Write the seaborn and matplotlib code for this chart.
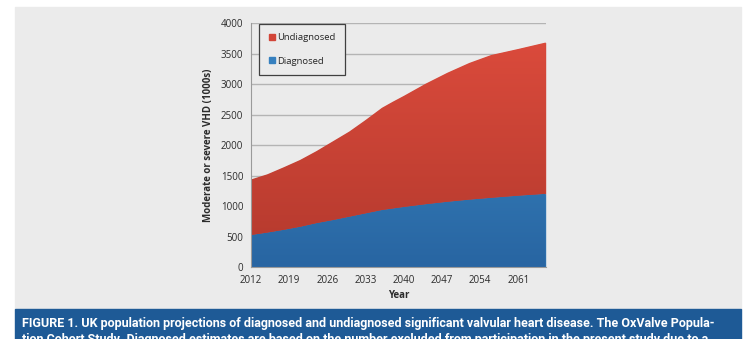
import numpy as np
import pandas as pd
import matplotlib
matplotlib.use('Agg')
import matplotlib.pyplot as plt
from matplotlib.colors import LinearSegmentedColormap
from matplotlib.lines import Line2D
from matplotlib.patches import Rectangle
import seaborn as sns

# values (thousands)
years = [2012, 2015, 2018, 2021, 2024, 2027, 2030, 2033, 2036, 2038, 2040, 2044, 2048, 2052, 2056, 2061, 2066]
diagnosed = [530, 570, 615, 665, 725, 775, 830, 885, 940, 965, 990, 1035, 1075, 1110, 1140, 1175, 1205]
undiagnosed = [910, 955, 1025, 1095, 1180, 1290, 1395, 1530, 1675, 1750, 1820, 1975, 2115, 2240, 2340, 2405, 2480]
tick_years = [2012, 2019, 2026, 2033, 2040, 2047, 2054, 2061]
y_ticks = [0, 500, 1000, 1500, 2000, 2500, 3000, 3500, 4000]

caption_1 = ("FIGURE 1. UK population projections of diagnosed and undiagnosed significant "
             "valvular heart disease. The OxValve Popula-")
caption_2 = ("tion Cohort Study. Diagnosed estimates are based on the number excluded from "
             "participation in the present study due to a")

sns.set_style('white')
plt.rcParams['font.family'] = ['Open Sans', 'DejaVu Sans']

df = pd.DataFrame({'Year': years, 'Diagnosed': diagnosed, 'Undiagnosed': undiagnosed})

W, H = 743, 339
fig = plt.figure(figsize=(W / 100, H / 100), dpi=100, facecolor='white')

# grey panel and blue caption banner (behind the axes)
fig.patches.append(Rectangle((15 / W, 30 / H), 726 / W, 302 / H, transform=fig.transFigure,
                             color='#ebebeb', zorder=-10))
fig.patches.append(Rectangle((15 / W, 0), 726 / W, 30 / H, transform=fig.transFigure,
                             color='#1e5a96', zorder=-10))

ax = fig.add_axes([251 / W, 71.7 / H, 294.7 / W, 244 / H])
ax.set_facecolor('none')

red = '#d24538'
blue = '#3680bf'
polys = ax.stackplot(df['Year'], df['Diagnosed'], df['Undiagnosed'], colors=[blue, red], lw=0, zorder=2)

# vertical gradients like the Excel fill
cmaps = [LinearSegmentedColormap.from_list('b', ['#2865a2', '#3e8fc9']),
         LinearSegmentedColormap.from_list('r', ['#b3392d', '#de4c3d'])]
grad = np.linspace(0, 1, 256).reshape(-1, 1)
for poly, cm in zip(polys, cmaps):
    im = ax.imshow(grad, extent=[years[0], years[-1], 0, 4000], origin='lower',
                   aspect='auto', cmap=cm, zorder=3)
    im.set_clip_path(poly.get_paths()[0], ax.transData)

ax.set_xlim(years[0], years[-1])
ax.set_ylim(0, 4000)
ax.set_xticks(tick_years)
ax.set_yticks(y_ticks)
ax.yaxis.grid(True, color='#b4b4b4', lw=1)
ax.set_axisbelow(True)
for s in ['top', 'right']:
    ax.spines[s].set_visible(False)
for s in ['left', 'bottom']:
    ax.spines[s].set_color('#9a9a9a')
    ax.spines[s].set_linewidth(0.8)
    ax.spines[s].set_zorder(4)
ax.tick_params(axis='both', length=3.5, width=0.8, color='#9a9a9a', labelsize=7,
               labelcolor='#2b2b2b', pad=2)

ax.set_xlabel('Year', fontsize=7, fontweight='bold', color='#2b2b2b', labelpad=3)
ax.set_ylabel('Moderate or severe VHD (1000s)', fontsize=7, fontweight='bold',
              color='#2b2b2b', labelpad=5)

handles = [Line2D([], [], marker='s', ls='', color=red, markersize=4, label='Undiagnosed'),
           Line2D([], [], marker='s', ls='', color=blue, markersize=4, label='Diagnosed')]
leg = ax.legend(handles=handles, loc='upper left', bbox_to_anchor=(0.028, 0.997),
                fontsize=6.8, frameon=True, fancybox=False, framealpha=1,
                facecolor='#ebebeb', edgecolor='#404040', labelspacing=1.5,
                handlelength=0.6, handletextpad=0.3, borderpad=1.0, borderaxespad=0)
leg.get_frame().set_linewidth(0.9)
leg.set_zorder(5)

# caption in the banner, fitted to the banner width
cap_kw = dict(color='white', fontweight='bold', family=['Roboto', 'DejaVu Sans'], va='center')
t1 = fig.text(22 / W, 1 - 323 / H, caption_1, fontsize=9, **cap_kw)
fig.canvas.draw()
fs = 9 * 691 / t1.get_window_extent().width
t1.set_fontsize(fs)
fig.text(22 / W, 1 - 339 / H, caption_2, fontsize=fs, **cap_kw)

fig.savefig('out.png', dpi=100, facecolor='white')
